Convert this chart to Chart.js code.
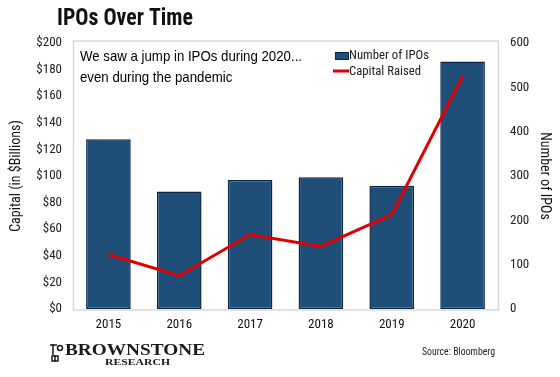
<!DOCTYPE html>
<html>
<head>
<meta charset="utf-8">
<script src="https://cdn.jsdelivr.net/npm/chart.js@4.4.1/dist/chart.umd.min.js"></script>
<style>
  html, body { margin: 0; padding: 0; background: #ffffff; }
  #wrap { width: 560px; height: 377px; position: relative; }
</style>
</head>
<body>
<div id="wrap"><canvas id="c" width="560" height="377"></canvas></div>
<script>
const years = ['2015', '2016', '2017', '2018', '2019', '2020'];
const ipoCounts = [383, 265, 291, 297, 278, 558];
const capitalRaised = [41, 25, 56, 47, 71, 175];
const titleText = 'IPOs Over Time';
const noteLines = ['We saw a jump in IPOs during 2020...', 'even during the pandemic'];
const sourceText = 'Source: Bloomberg';

const NARROW = "'Liberation Sans Narrow', 'Arial Narrow', 'Roboto Condensed', 'Liberation Sans', Arial, sans-serif";
const SANS = "'Liberation Sans', Arial, sans-serif";
const SERIF = "'Liberation Serif', 'DejaVu Serif', serif";

function fitText(ctx, text, x, y, width, scaleRef) {
  const w = ctx.measureText(text).width;
  const sx = scaleRef ? scaleRef : width / w;
  ctx.save();
  ctx.translate(x, y);
  ctx.scale(sx, 1);
  ctx.fillText(text, 0, 0);
  ctx.restore();
  return sx;
}

const extras = {
  id: 'extras',
  beforeDatasetsDraw(chart) {
    const { ctx, chartArea: a } = chart;
    ctx.save();
    ctx.strokeStyle = '#d9d9d9';
    ctx.lineWidth = 1.5;
    ctx.strokeRect(a.left + 0.5, a.top - 2, a.right - a.left, a.bottom - a.top + 3);
    ctx.restore();
  },
  afterDraw(chart) {
    const { ctx } = chart;
    ctx.save();
    ctx.textBaseline = 'middle';
    ctx.textAlign = 'left';
    // title
    ctx.fillStyle = '#111111';
    ctx.font = "bold 23px " + NARROW;
    fitText(ctx, titleText, 57, 19, 136);
    // note
    ctx.font = "15px " + SANS;
    ctx.fillStyle = '#000000';
    const s = fitText(ctx, noteLines[0], 80, 57, 222);
    fitText(ctx, noteLines[1], 80, 78, 0, s);
    // legend
    const bar = chart.data.datasets.find(d => d.type === 'bar');
    const line = chart.data.datasets.find(d => d.type === 'line');
    ctx.fillStyle = bar.backgroundColor;
    ctx.strokeStyle = bar.borderColor;
    ctx.lineWidth = 1;
    ctx.fillRect(335, 52, 13, 7);
    ctx.strokeRect(335.5, 52.5, 13, 7);
    ctx.strokeStyle = line.borderColor;
    ctx.lineWidth = 3;
    ctx.beginPath(); ctx.moveTo(333, 71); ctx.lineTo(349, 71); ctx.stroke();
    ctx.fillStyle = '#222222';
    ctx.font = "13px " + NARROW;
    fitText(ctx, bar.label, 349, 56, 80);
    fitText(ctx, line.label, 349, 72, 72);
    // source
    ctx.font = "11px " + NARROW;
    fitText(ctx, sourceText, 422, 352, 73);
    // logo text
    ctx.fillStyle = '#1a1a1a';
    ctx.font = "bold 17px " + SERIF;
    fitText(ctx, 'BROWNSTONE', 65, 351, 140);
    ctx.font = "bold 9px " + SERIF;
    fitText(ctx, 'RESEARCH', 105, 363, 65);
    // small logo mark
    ctx.strokeStyle = '#1a1a1a';
    ctx.lineWidth = 1.5;
    ctx.beginPath();
    ctx.moveTo(53, 344); ctx.lineTo(53, 355);
    ctx.moveTo(50, 345); ctx.lineTo(57, 345);
    ctx.moveTo(55, 355); ctx.lineTo(55, 362);
    ctx.stroke();
    ctx.beginPath(); ctx.arc(60, 348, 2.5, 0, Math.PI * 2); ctx.stroke();
    ctx.strokeRect(52, 356, 6, 5);
    ctx.restore();
  }
};

new Chart(document.getElementById('c'), {
  data: {
    labels: years,
    datasets: [
      {
        type: 'line',
        label: 'Capital Raised',
        data: capitalRaised,
        yAxisID: 'yCap',
        borderColor: '#e00000',
        backgroundColor: '#e00000',
        borderWidth: 3,
        pointRadius: 0,
        tension: 0,
        order: 0
      },
      {
        type: 'bar',
        label: 'Number of IPOs',
        data: ipoCounts,
        yAxisID: 'yNum',
        backgroundColor: '#1f4e79',
        borderColor: '#0a2448',
        borderWidth: 1.5,
        borderSkipped: false,
        barPercentage: 0.63,
        categoryPercentage: 1.0,
        order: 1
      }
    ]
  },
  options: {
    responsive: false,
    animation: false,
    layout: { padding: { top: 43, left: 0, right: 0, bottom: 0 } },
    plugins: { legend: { display: false }, tooltip: { enabled: false } },
    scales: {
      x: {
        grid: { display: false, drawTicks: false },
        border: { display: false },
        ticks: { color: '#111', font: { family: NARROW, size: 13 }, padding: 8 },
        afterFit(s) { s.height = 68; }
      },
      yCap: {
        position: 'left',
        min: 0, max: 200,
        grid: { display: false, drawTicks: false },
        border: { display: false },
        ticks: { stepSize: 20, color: '#222', font: { family: NARROW, size: 13 }, padding: 11,
                 callback: v => '$' + v },
        title: { display: true, text: 'Capital (in $Billions)', color: '#111',
                 font: { family: NARROW, size: 14 }, padding: { top: 8, bottom: 0 } },
        afterFit(s) { s.width = 73; }
      },
      yNum: {
        position: 'right',
        min: 0, max: 600,
        grid: { display: false, drawTicks: false },
        border: { display: false },
        ticks: { stepSize: 100, color: '#222', font: { family: NARROW, size: 13 }, padding: 12 },
        title: { display: true, text: 'Number of IPOs', color: '#111',
                 font: { family: NARROW, size: 14 }, padding: { top: 7, bottom: 0 } },
        afterFit(s) { s.width = 62; }
      }
    }
  },
  plugins: [extras]
});
</script>
</body>
</html>
